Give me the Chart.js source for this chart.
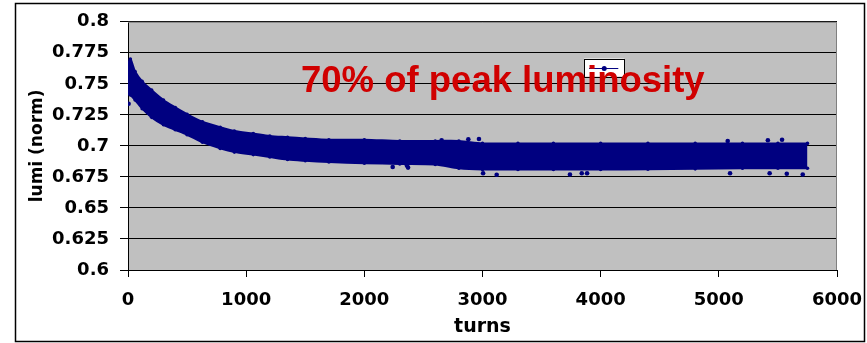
<!DOCTYPE html>
<html>
<head>
<meta charset="utf-8">
<script src="https://cdn.jsdelivr.net/npm/chart.js@4/dist/chart.umd.min.js"></script>
<style>
  html, body { margin: 0; padding: 0; background: #fff; }
  canvas { display: block; }
</style>
</head>
<body>
<canvas id="lumiChart" width="867" height="343"></canvas>
<script>
// Data: the scatter forms a band, kept as its upper and lower edges
const turns = [0, 20, 60, 120, 200, 300, 400, 500, 630, 780, 900, 1060, 1200, 1350, 1500, 1700, 2000, 2300, 2600, 2800, 3000, 3300, 3600, 4000, 4400, 4800, 5200, 5500, 5750];
const upperLumi = [0.766, 0.770, 0.760, 0.752, 0.745, 0.737, 0.731, 0.7255, 0.7195, 0.715, 0.712, 0.710, 0.708, 0.707, 0.706, 0.705, 0.705, 0.704, 0.704, 0.704, 0.702, 0.702, 0.702, 0.702, 0.702, 0.702, 0.702, 0.702, 0.702];
const lowerLumi = [0.742, 0.741, 0.737, 0.730, 0.723, 0.717, 0.713, 0.709, 0.703, 0.698, 0.695, 0.693, 0.691, 0.689, 0.688, 0.687, 0.686, 0.6855, 0.685, 0.682, 0.681, 0.681, 0.681, 0.681, 0.6812, 0.6815, 0.682, 0.682, 0.682];

// single points sticking out of the band
const outlierTurns = [5, 2240, 2360, 2370, 2654, 2880, 2970, 3005, 3120, 3740, 3840, 3885, 5075, 5095, 5415, 5430, 5535, 5575, 5710];
const outlierLumi = [0.734, 0.683, 0.6843, 0.6825, 0.7046, 0.7054, 0.7056, 0.678, 0.6768, 0.677, 0.678, 0.678, 0.704, 0.678, 0.7045, 0.678, 0.705, 0.6775, 0.677];

const xTicks = [0, 1000, 2000, 3000, 4000, 5000, 6000];
const yTicks = [0.6, 0.625, 0.65, 0.675, 0.7, 0.725, 0.75, 0.775, 0.8];
const yTickLabels = ['0.6', '0.625', '0.65', '0.675', '0.7', '0.725', '0.75', '0.775', '0.8'];

const noteText = '70% of peak luminosity';

const navy = '#000080';
const tickFont = { family: 'DejaVu Sans', size: 18, weight: 'bold' };

// Background, frame, legend box and the red note
const decor = {
    id: 'decor',
    beforeDraw(chart) {
        const { ctx, chartArea: a } = chart;
        ctx.save();
        ctx.fillStyle = '#fff';
        ctx.fillRect(0, 0, chart.width, chart.height);
        ctx.strokeStyle = '#000';
        ctx.lineWidth = 1.5;
        ctx.strokeRect(15.5, 3.5, 849, 338);
        ctx.fillStyle = '#c0c0c0';
        ctx.fillRect(a.left, a.top, a.right - a.left, a.bottom - a.top);
        ctx.restore();
    },
    afterDraw(chart) {
        const { ctx, chartArea: a } = chart;
        const xs = chart.scales.x, ys = chart.scales.y;
        ctx.save();
        // plot frame (top and right)
        ctx.strokeStyle = '#808080';
        ctx.lineWidth = 1;
        ctx.beginPath();
        ctx.moveTo(a.left, a.top + 0.5);
        ctx.lineTo(a.right - 0.5, a.top + 0.5);
        ctx.lineTo(a.right - 0.5, a.bottom);
        ctx.stroke();

        // small legend box
        const lx = xs.getPixelForValue(3860), rx = xs.getPixelForValue(4200);
        const ty = ys.getPixelForValue(0.7704), by = ys.getPixelForValue(0.7559);
        ctx.fillStyle = '#fff';
        ctx.fillRect(lx, ty, rx - lx, by - ty);
        ctx.strokeStyle = '#000';
        ctx.strokeRect(Math.round(lx) + 0.5, Math.round(ty) + 0.5, Math.round(rx - lx), Math.round(by - ty));
        const my = (ty + by) / 2 + 1;
        ctx.strokeStyle = navy;
        ctx.beginPath();
        ctx.moveTo(lx + 5, my);
        ctx.lineTo(rx - 6, my);
        ctx.stroke();
        ctx.fillStyle = navy;
        ctx.beginPath();
        ctx.arc((lx + rx) / 2, my, 2.5, 0, Math.PI * 2);
        ctx.fill();

        // red note
        ctx.fillStyle = '#d00000';
        ctx.font = 'bold 36.5px "Liberation Sans", Arial, sans-serif';
        ctx.textBaseline = 'alphabetic';
        ctx.textAlign = 'left';
        ctx.fillText(noteText, xs.getPixelForValue(1464), ys.getPixelForValue(0.7437));
        ctx.restore();
    }
};

const ctx = document.getElementById('lumiChart').getContext('2d');

const chart = new Chart(ctx, {
    type: 'line',
    data: {
        datasets: [
            {
                label: 'upper',
                data: turns.map((t, i) => ({ x: t, y: upperLumi[i] })),
                borderColor: navy,
                backgroundColor: navy,
                borderWidth: 2,
                pointRadius: 1.8,
                pointBackgroundColor: navy,
                pointBorderWidth: 0,
                tension: 0.3,
                fill: '+1'
            },
            {
                label: 'lower',
                data: turns.map((t, i) => ({ x: t, y: lowerLumi[i] })),
                borderColor: navy,
                backgroundColor: navy,
                borderWidth: 2,
                pointRadius: 1.8,
                pointBackgroundColor: navy,
                pointBorderWidth: 0,
                tension: 0.3,
                fill: false
            },
            {
                label: 'outliers',
                data: outlierTurns.map((t, i) => ({ x: t, y: outlierLumi[i] })),
                showLine: false,
                pointRadius: 2.3,
                pointBackgroundColor: navy,
                pointBorderWidth: 0
            }
        ]
    },
    options: {
        responsive: false,
        animation: false,
        layout: { padding: { left: 27, top: 20, right: 30, bottom: 5 } },
        plugins: {
            legend: { display: false },
            tooltip: { enabled: false }
        },
        scales: {
            x: {
                type: 'linear',
                min: 0,
                max: 6000,
                afterBuildTicks: scale => { scale.ticks = xTicks.map(v => ({ value: v })); },
                afterFit: scale => {
                    scale.height = 68;
                    scale.paddingLeft = 0;
                    scale.paddingRight = 20;
                },
                ticks: { color: '#000', font: tickFont, padding: 13, maxRotation: 0, callback: v => String(v) },
                grid: { drawOnChartArea: false, drawTicks: true, tickLength: 7, color: '#000' },
                border: { color: '#000', width: 1 },
                title: {
                    display: true,
                    text: 'turns',
                    color: '#000',
                    font: { family: 'DejaVu Sans', size: 19, weight: 'bold' },
                    padding: 0
                }
            },
            y: {
                min: 0.6,
                max: 0.8,
                afterBuildTicks: scale => { scale.ticks = yTicks.map(v => ({ value: v })); },
                afterFit: scale => { scale.width = 101; },
                ticks: {
                    color: '#000',
                    font: tickFont,
                    padding: 11,
                    callback: (v) => yTickLabels[yTicks.findIndex(t => Math.abs(t - v) < 1e-6)]
                },
                grid: { color: '#000', lineWidth: 1, tickLength: 8 },
                border: { color: '#000', width: 1 },
                title: {
                    display: true,
                    text: 'lumi (norm)',
                    color: '#000',
                    font: { family: 'DejaVu Sans', size: 17, weight: 'bold' },
                    padding: 0
                }
            }
        }
    },
    plugins: [decor]
});
</script>
</body>
</html>
